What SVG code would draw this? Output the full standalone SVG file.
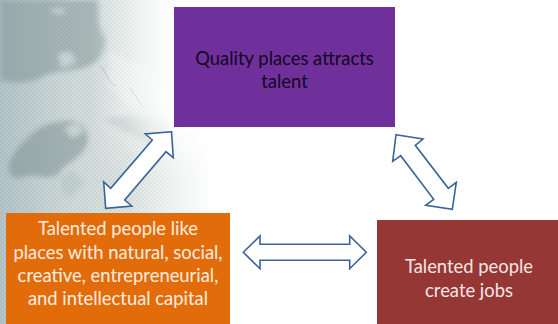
<svg xmlns="http://www.w3.org/2000/svg" width="558" height="324" viewBox="0 0 558 324">
<style>
.arrow{fill:#fff;stroke:#3a6496;stroke-width:1.6;stroke-linejoin:miter}
.lbl{font-family:"Lato","Carlito","Liberation Sans",sans-serif;font-size:18.4px;text-anchor:middle}
.land{fill:#7f9294}
</style>
<defs>
<linearGradient id="base" x1="0" y1="0" x2="1" y2="0">
<stop offset="0" stop-color="#b4c4c9"/><stop offset=".3" stop-color="#cfdad9"/><stop offset=".65" stop-color="#dfe7e4"/><stop offset="1" stop-color="#e8eeeb"/>
</linearGradient>
<linearGradient id="fade" x1="0" y1="0" x2="1" y2="0">
<stop offset="0" stop-color="#fff" stop-opacity="0"/><stop offset=".6" stop-color="#fff" stop-opacity="0"/><stop offset="1" stop-color="#fff"/>
</linearGradient>
<linearGradient id="fadeTop" x1="0" y1="0" x2="1" y2="0">
<stop offset="0" stop-color="#fff" stop-opacity="0"/><stop offset=".42" stop-color="#fff" stop-opacity="0"/><stop offset=".85" stop-color="#fff"/><stop offset="1" stop-color="#fff"/>
</linearGradient>
<linearGradient id="topMask" x1="0" y1="0" x2="0" y2="1">
<stop offset="0" stop-color="#fff"/><stop offset=".55" stop-color="#fff"/><stop offset=".85" stop-color="#000"/>
</linearGradient>
<mask id="tm"><rect width="240" height="213" fill="url(#topMask)"/></mask>
<filter id="soft" x="-20%" y="-20%" width="140%" height="140%"><feGaussianBlur stdDeviation="2.5"/></filter>
<pattern id="dots" width="4" height="4" patternUnits="userSpaceOnUse">
<circle cx="1" cy="1" r=".8" fill="#5f7377" fill-opacity=".24"/><circle cx="3" cy="3" r=".8" fill="#5f7377" fill-opacity=".24"/>
</pattern>
</defs>
<rect width="558" height="324" fill="#fff"/>
<g id="background">
<rect x="0" y="0" width="215" height="324" fill="url(#base)"/>
<g filter="url(#soft)">
<path class="land" opacity=".5" d="M0 0H98C100 12 96 26 105 36C108 48 100 62 88 66C74 72 58 70 44 76C30 84 14 84 0 80Z"/>
<path fill="#d5dfde" opacity=".8" d="M52 9H64V13H52ZM58 54L70 52L76 62L62 68Z"/>
<path class="land" opacity=".55" d="M10 160C22 140 40 122 60 122C76 118 88 124 88 140C84 158 66 162 56 176C44 180 34 172 20 178C10 180 6 170 10 160Z"/>
<path fill="#d5dfde" opacity=".8" d="M64 128L78 122L84 132L72 138Z"/>
<path fill="#9fb2b2" opacity=".45" d="M105 120C120 114 150 116 170 120L172 140L150 146C135 136 118 128 105 120Z"/>
<path fill="#aebfbe" opacity=".4" d="M60 176L74 170L84 184L70 198L62 192Z"/>
<path fill="#eef3f1" opacity=".6" d="M110 50L150 70L172 100L130 110L108 85Z"/>
</g>
<path fill="none" stroke="#8fa3a3" stroke-width=".6" d="M100 65C106 72 108 82 116 86M130 88C136 96 140 104 146 110"/>
<rect x="0" y="0" width="215" height="324" fill="url(#dots)"/>
<rect x="0" y="0" width="215" height="324" fill="url(#fade)"/>
<rect x="0" y="0" width="215" height="213" fill="url(#fadeTop)" mask="url(#tm)"/>
</g>
<g id="connectors">
<polygon class="arrow" points="171.5,131.7 145.3,134 152.3,140 110.7,188.3 103.7,182 105.7,208.3 131.7,206 124.7,200 166,151.7 173.3,157.7"/>
<polygon class="arrow" points="396,134.7 423,139 415.3,145.3 448.3,188.3 456.3,182.3 452.3,209.3 425.7,205.3 433.7,199.3 400.7,155.7 392.7,161.3"/>
<polygon class="arrow" points="243.3,252.3 260,236 260,244.3 349.7,244.3 349.7,236 366.3,252.3 349.7,268.7 349.7,260.3 260,260.3 260,268.7"/>
</g>
<g id="node-quality">
<rect x="174" y="7" width="221" height="120" fill="#70309c"/>
<text class="lbl" fill="#12061f"><tspan x="284.500" y="65">Quality places attracts</tspan><tspan x="284.500" y="88">talent</tspan></text>
</g>
<g id="node-like">
<rect x="6" y="213" width="224" height="111" fill="#e36c0a"/>
<text class="lbl" fill="#fdeee0"><tspan x="118" y="235">Talented people like</tspan><tspan x="118" y="258.500">places with natural, social,</tspan><tspan x="118" y="282">creative, entrepreneurial,</tspan><tspan x="118" y="305">and intellectual capital</tspan></text>
</g>
<g id="node-jobs">
<rect x="377" y="220" width="181" height="104" fill="#953735"/>
<text class="lbl" fill="#f6e6e5"><tspan x="469" y="273">Talented people</tspan><tspan x="469" y="297">create jobs</tspan></text>
</g>
</svg>
